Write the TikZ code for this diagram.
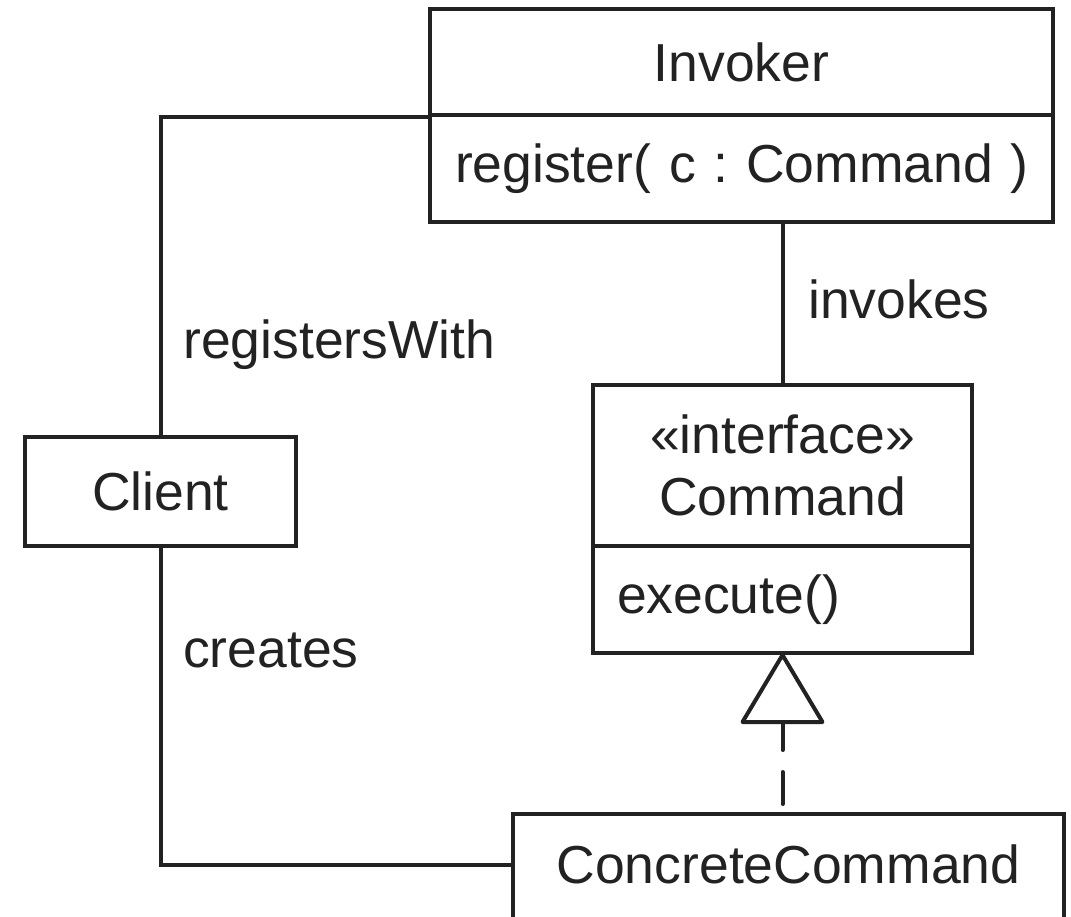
\documentclass[tikz,border=0pt]{standalone}
\usepackage{fontspec}
\setmainfont{Liberation Sans}
\definecolor{ink}{HTML}{222222}
\begin{document}
\begin{tikzpicture}[x=1pt,y=-1pt,
  every node/.style={font=\fontsize{53.5}{61.5}\selectfont\frenchspacing, text=ink},
  box/.style={draw=ink, line width=4pt, rectangle, inner sep=0pt, anchor=north west},
  conn/.style={draw=ink, line width=4pt},
  lbl/.style={inner sep=0pt, anchor=base west}]
\useasboundingbox (0,0) rectangle (1071,916);
\clip (0,0) rectangle (1071,916);
% classes
\node[box, minimum width=623pt, minimum height=106pt] (invtitle) at (428,7) {Invoker};
\node[box, minimum width=623pt, minimum height=107pt, text width=573pt, inner xsep=25pt, align=left] (invmeth) at (428,113) {\mbox{register( c : Command )}};
\node[box, minimum width=271pt, minimum height=109pt] (client) at (23,435) {Client};
\node[box, minimum width=379pt, minimum height=161pt, align=center] (cmdtop) at (591,383) {«interface»\\Command};
\node[box, minimum width=379pt, minimum height=107pt, text width=331pt, inner xsep=24pt, align=left] (cmdbot) at (591,544) {execute()};
\node[box, minimum width=551pt, text height=69pt, text depth=60pt, inner ysep=0pt] (cc) at (511,812) {ConcreteCommand};
% connectors
\coordinate (ccin) at (511,865);
\draw[conn] (invtitle.south west) -| (client.north);
\draw[conn] (client.south) |- (ccin);
\draw[conn] (invmeth.south -| cmdtop.north) -- (cmdtop.north);
\draw[conn, line join=round] (cmdbot.south) -- ++(-40,67) coordinate (trileft) -- ++(80,0) -- cycle;
\path (cmdbot.south) ++(0,67) coordinate (tribase);
\draw[conn, line cap=round, dash pattern=on 28pt off 22pt on 32pt off 80pt] (tribase) -- (tribase |- cc.north);
% labels
\node[lbl] (lreg) at (183,358) {registersWith};
\node[lbl] (lcre) at (183,667) {creates};
\node[lbl] (linv) at (808,318) {invokes};
\end{tikzpicture}
\end{document}
